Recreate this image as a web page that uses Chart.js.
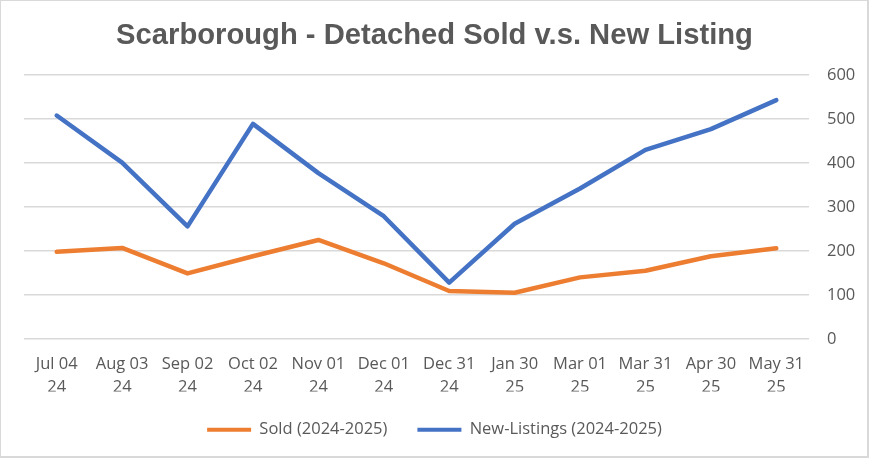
<!DOCTYPE html>
<html>
<head>
<meta charset="utf-8">
<script src="https://cdn.jsdelivr.net/npm/chart.js@4.4.1/dist/chart.umd.min.js"></script>
<style>
  html, body { margin: 0; padding: 0; background: #ffffff; }
  #wrap { position: relative; width: 869px; height: 458px; }
  #frame { position: absolute; left: 0; top: 0; width: 869px; height: 458px; box-sizing: border-box;
           border-left: 1px solid #d9d9d9; border-top: 1px solid #d9d9d9;
           border-right: 2px solid #d9d9d9; border-bottom: 2px solid #d9d9d9; pointer-events: none; }
  canvas { position: absolute; left: 0; top: 0; }
</style>
</head>
<body>
<div id="wrap">
  <canvas id="c" width="869" height="458"></canvas>
  <div id="frame"></div>
</div>
<script>
const titleText = 'Scarborough - Detached Sold v.s. New Listing';
const categories = [
  ['Jul 04', '24'], ['Aug 03', '24'], ['Sep 02', '24'], ['Oct 02', '24'],
  ['Nov 01', '24'], ['Dec 01', '24'], ['Dec 31', '24'], ['Jan 30', '25'],
  ['Mar 01', '25'], ['Mar 31', '25'], ['Apr 30', '25'], ['May 31', '25']
];
const soldLabel = 'Sold (2024-2025)';
const soldValues = [198, 207, 149, 188, 225, 172, 109, 105, 140, 155, 188, 206];
const newLabel = 'New-Listings (2024-2025)';
const newValues = [508, 401, 256, 489, 377, 279, 128, 262, 342, 430, 477, 543];
const yMin = 0, yMax = 600, yStep = 100;

const textColor = '#595959';
const gridColor = '#d9d9d9';
const orange = '#ed7d31';
const blue = '#4472c4';
const tickFont = { family: "'Open Sans', 'Noto Sans', sans-serif", size: 16.5, lineHeight: 1.38 };

new Chart(document.getElementById('c'), {
  type: 'line',
  data: {
    labels: categories,
    datasets: [
      { label: soldLabel, data: soldValues, borderColor: orange, backgroundColor: orange,
        borderWidth: 4.5, pointRadius: 0, pointHoverRadius: 0, tension: 0,
        borderJoinStyle: 'round', borderCapStyle: 'round' },
      { label: newLabel, data: newValues, borderColor: blue, backgroundColor: blue,
        borderWidth: 4.5, pointRadius: 0, pointHoverRadius: 0, tension: 0,
        borderJoinStyle: 'round', borderCapStyle: 'round' }
    ]
  },
  options: {
    responsive: false,
    animation: false,
    devicePixelRatio: 1,
    layout: { padding: { left: 0, right: 0, top: 0, bottom: 10 } },
    plugins: {
      tooltip: { enabled: false },
      title: {
        display: true, text: titleText, color: textColor,
        font: { family: "'Liberation Sans', Arial, sans-serif", size: 29.2, weight: 'bold', lineHeight: 1.2 },
        padding: { top: 18, bottom: 22 }
      },
      legend: {
        position: 'bottom',
        labels: {
          color: textColor, font: tickFont, boxWidth: 44, boxHeight: 4, padding: 30,
          generateLabels(chart) {
            return chart.data.datasets.map((ds, i) => ({
              text: ds.label, fillStyle: ds.borderColor, strokeStyle: ds.borderColor,
              lineWidth: 0, hidden: false, datasetIndex: i, fontColor: textColor
            }));
          }
        }
      }
    },
    scales: {
      x: {
        offset: true,
        grid: { display: false, drawTicks: false },
        border: { display: false },
        ticks: { color: textColor, font: tickFont, padding: 14, maxRotation: 0, autoSkip: false },
        afterFit(scale) { scale.height = scale.height - 21; }
      },
      y: {
        position: 'right',
        min: yMin, max: yMax,
        grid: { color: gridColor, lineWidth: 1.5, drawTicks: false },
        border: { display: false },
        ticks: { color: textColor, font: tickFont, stepSize: yStep, padding: 18 },
        afterFit(scale) { scale.width = 60; }
      },
      yLeftMargin: {
        position: 'left',
        display: true,
        grid: { display: false, drawTicks: false },
        border: { display: false },
        ticks: { display: false },
        afterFit(scale) { scale.width = 24; }
      }
    }
  }
});
</script>
</body>
</html>
